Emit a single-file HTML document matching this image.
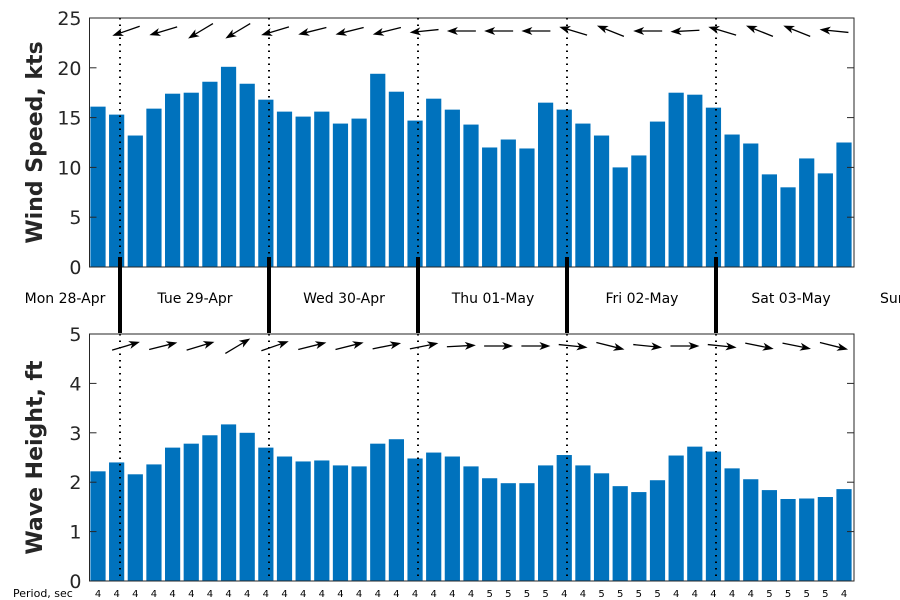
<!DOCTYPE html>
<html><head><meta charset="utf-8"><style>
html,body{margin:0;padding:0;background:#fff;}
svg{display:block;font-family:"DejaVu Sans","Liberation Sans",sans-serif;}
</style></head><body>
<svg id="chart" width="900" height="600" viewBox="0 0 900 600" xmlns="http://www.w3.org/2000/svg"></svg>
<script>
const windSpeed=[16.1,15.3,13.2,15.9,17.4,17.5,18.6,20.1,18.4,16.8,15.6,15.1,15.6,14.4,14.9,19.4,17.6,14.7,16.9,15.8,14.3,12.0,12.8,11.9,16.5,15.8,14.4,13.2,10.0,11.2,14.6,17.5,17.3,16.0,13.3,12.4,9.3,8.0,10.9,9.4,12.5];
const waveHeight=[2.22,2.4,2.16,2.36,2.7,2.78,2.95,3.17,3.0,2.7,2.52,2.42,2.44,2.34,2.32,2.78,2.87,2.48,2.6,2.52,2.32,2.08,1.98,1.98,2.34,2.55,2.34,2.18,1.92,1.8,2.04,2.54,2.72,2.62,2.28,2.06,1.84,1.66,1.67,1.7,1.86];
const period=[4,4,4,4,4,4,4,4,4,4,4,4,4,4,4,4,4,4,4,4,4,5,5,5,5,4,4,5,5,5,5,4,4,4,4,4,5,5,5,5,4];
const windDir=[[-1,0.35],[-1,0.3],[-1,0.6],[-1,0.6],[-1,0.3],[-1,0.25],[-1,0.25],[-1,0.25],[-1,0.1],[-1,0],[-1,0],[-1,0],[-1,-0.3],[-1,-0.4],[-1,0],[-1,0.05],[-1,-0.3],[-1,-0.4],[-1,-0.4],[-1,-0.1]];
const waveDir=[[1,-0.3],[1,-0.25],[1,-0.3],[1,-0.6],[1,-0.35],[1,-0.25],[1,-0.25],[1,-0.2],[1,-0.2],[1,-0.05],[1,0],[1,0],[1,0.1],[1,0.25],[1,0.1],[1,0],[1,0.1],[1,0.2],[1,0.2],[1,0.25]];
const dayLabels=["Mon 28-Apr","Tue 29-Apr","Wed 30-Apr","Thu 01-May","Fri 02-May","Sat 03-May","Sun"];
const windTicks=[0,5,10,15,20,25];
const waveTicks=[0,1,2,3,4,5];

const NS="http://www.w3.org/2000/svg";
const svg=document.getElementById('chart');
function mk(tag,attrs,parent){const e=document.createElementNS(NS,tag);for(const k in attrs)e.setAttribute(k,attrs[k]);(parent||svg).appendChild(e);return e;}
const L=89.5,R=854,N=windSpeed.length;
const step=(R-L)/N*0.9985;
function xb(i){return 98+i*((844-98)/(N-1));}
const dayX=[120,269,418,567,716];
function panel(vals,ticks,top,bot,name,title){
  const max=ticks[ticks.length-1];
  const y=v=>bot-(v/max)*(bot-top);
  const g=mk('g',{});
  
  
  vals.forEach((v,i)=>{
    const r=mk('rect',{x:xb(i)-7.6,y:y(v),width:15.2,height:bot-y(v),fill:'#0072bd'},g);
    
    
  });
  dayX.forEach(x=>{
    const l=mk('line',{x1:x,x2:x,y1:top,y2:bot,stroke:'#000','stroke-width':2,'stroke-dasharray':'1.5,5'},g);
    
    
  });
  mk('rect',{x:L,y:top,width:R-L,height:bot-top,fill:'none',stroke:'#262626','stroke-width':1},g);
  ticks.forEach(t=>{
    const yy=y(t);
    mk('line',{x1:L,x2:L+7,y1:yy,y2:yy,stroke:'#262626'},g);
    mk('line',{x1:R,x2:R-7,y1:yy,y2:yy,stroke:'#262626'},g);
    const tx=mk('text',{x:L-8,y:yy+7,'text-anchor':'end','font-size':19,fill:'#262626'},g);
    tx.textContent=t;
    
    
  });
  const tt=mk('text',{x:0,y:0,transform:`translate(42,${(top+bot)/2}) rotate(-90)`,'text-anchor':'middle','font-size':22,'font-weight':'bold',fill:'#262626'},g);
  tt.textContent=title;
  
  
}
panel(windSpeed,windTicks,18,267,'wind-speed','Wind Speed, kts');
panel(waveHeight,waveTicks,334,581,'wave-height','Wave Height, ft');

function arrows(dirs,yc,name){
  dirs.forEach((d,k)=>{
    const cx=126+k*((834-126)/(dirs.length-1));
    const len=29,m=Math.hypot(d[0],d[1]);
    const ux=d[0]/m,uy=d[1]/m;
    const x1=cx-ux*len/2,y1=yc-uy*len/2,x2=cx+ux*len/2,y2=yc+uy*len/2;
    const g=mk('g',{});
    
    
    mk('line',{x1:x1,y1:y1,x2:x2-ux*6,y2:y2-uy*6,stroke:'#000','stroke-width':1.3},g);
    const px=-uy,py=ux;
    mk('polygon',{points:`${x2},${y2} ${x2-ux*11+px*4},${y2-uy*11+py*4} ${x2-ux*8},${y2-uy*8} ${x2-ux*11-px*4},${y2-uy*11-py*4}`,fill:'#000'},g);
  });
}
arrows(windDir,31,'wind-direction');
arrows(waveDir,346,'wave-direction');

dayX.forEach(x=>{
  const l=mk('line',{x1:x,x2:x,y1:257,y2:333,stroke:'#000','stroke-width':4});
  
  
});
const labX=[65,195,344,493,642,791,880];
dayLabels.forEach((s,i)=>{
  const t=mk('text',{x:labX[i],y:303,'text-anchor':i==6?'start':'middle','font-size':14,fill:'#000'});
  t.textContent=s;
  
  
});
const pl=mk('text',{x:13,y:597,'font-size':11,fill:'#000'});
pl.textContent='Period, sec';


period.forEach((p,i)=>{
  const t=mk('text',{x:xb(i),y:597,'text-anchor':'middle','font-size':10,fill:'#000'});
  t.textContent=p;
  
  
});
</script>
</body></html>
